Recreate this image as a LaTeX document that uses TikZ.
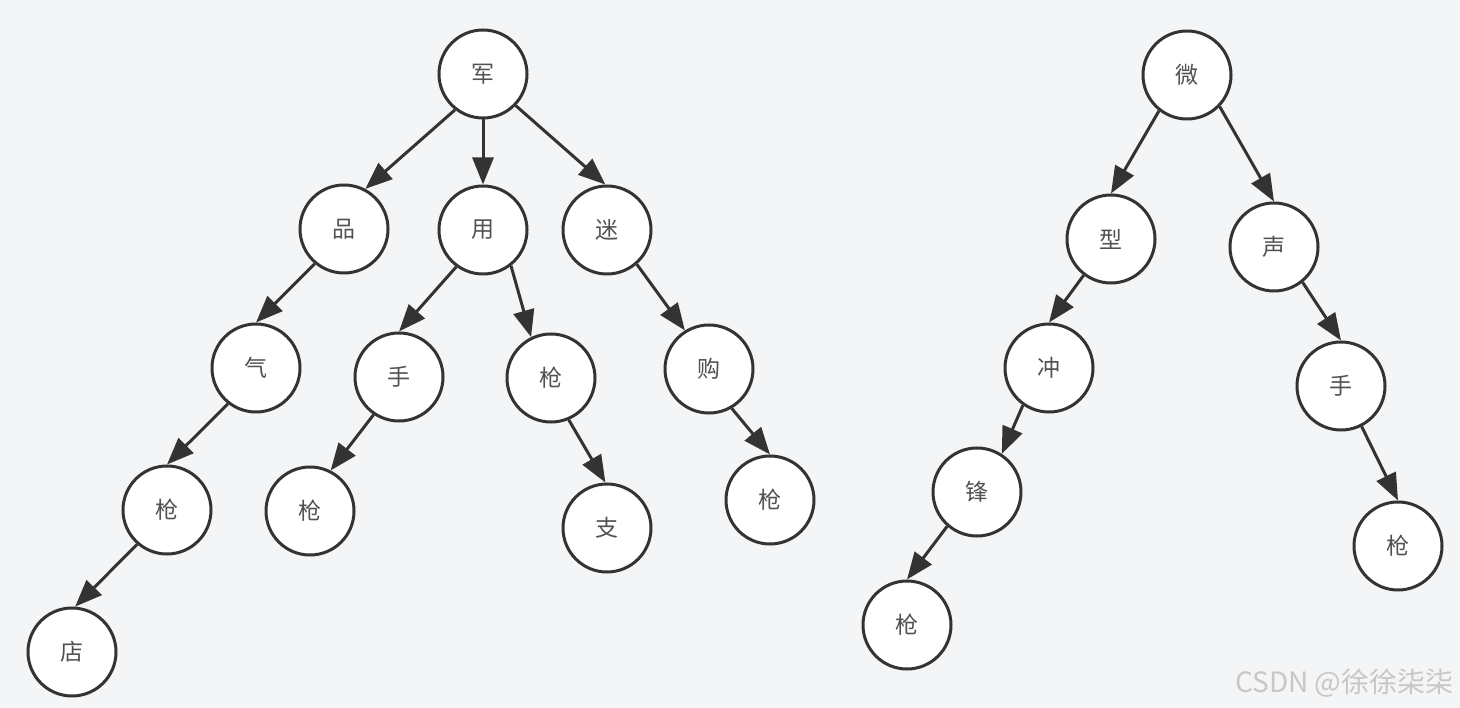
\documentclass[tikz,border=0pt]{standalone}
\usepackage{fontspec}
\newfontfamily\cjk{Noto Sans CJK SC}
\usetikzlibrary{arrows.meta}
\definecolor{bg}{HTML}{F4F5F7}
\definecolor{ink}{HTML}{333333}
\tikzset{
  tnode/.style={circle,draw=ink,fill=white,line width=3pt,minimum size=88pt,inner sep=0pt,font=\cjk\fontsize{23}{23}\selectfont,text=ink!85},
  tedge/.style={draw=ink,line width=3pt,-{Triangle[length=27pt,width=21pt]}},
}
\begin{document}
\begin{tikzpicture}[x=1pt,y=-1pt]
\fill[bg] (0,0) rectangle (1460,708);
\useasboundingbox (0,0) rectangle (1460,708);
% left tree
\node[tnode] (jun) at (483,74) {军};
\node[tnode] (pin) at (344,229) {品};
\node[tnode] (yong) at (483,230) {用};
\node[tnode] (mi) at (607,230) {迷};
\node[tnode] (qi) at (256,368) {气};
\node[tnode] (shou) at (399,377) {手};
\node[tnode] (qiangA) at (551,378) {枪};
\node[tnode] (gou) at (709,369) {购};
\node[tnode] (qiangB) at (167,510) {枪};
\node[tnode] (qiangC) at (310,511) {枪};
\node[tnode] (zhi) at (607,528) {支};
\node[tnode] (qiangD) at (770,500) {枪};
\node[tnode] (dian) at (72,652) {店};
% right tree
\node[tnode] (wei) at (1187,75) {微};
\node[tnode] (xing) at (1111,239) {型};
\node[tnode] (sheng) at (1274,247) {声};
\node[tnode] (chong) at (1049,368) {冲};
\node[tnode] (shouB) at (1341,386) {手};
\node[tnode] (feng) at (977,492) {锋};
\node[tnode] (qiangE) at (1398,546) {枪};
\node[tnode] (qiangF) at (907,625) {枪};
% edges
\draw[tedge] (jun.232) -- (pin.62);
\draw[tedge] (jun.270) -- (yong.90);
\draw[tedge] (jun.316) -- (mi.92);
\draw[tedge] (pin.230) -- (qi.90);
\draw[tedge] (qi.232) -- (qiangB.90);
\draw[tedge] (qiangB.229) -- (dian.86);
\draw[tedge] (yong.234) -- (shou.90);
\draw[tedge] (yong.308) -- (qiangA.116);
\draw[tedge] (shou.236) -- (qiangC.63);
\draw[tedge] (qiangA.293) -- (zhi.92);
\draw[tedge] (mi.311) -- (gou.122);
\draw[tedge] (gou.300) -- (qiangD.90);
\draw[tedge] (wei.232) -- (xing.90);
\draw[tedge] (wei.316) -- (sheng.90);
\draw[tedge] (xing.233) -- (chong.90);
\draw[tedge] (chong.235) -- (feng.57);
\draw[tedge] (feng.229) -- (qiangF.90);
\draw[tedge] (sheng.309) -- (shouB.90);
\draw[tedge] (shouB.297) -- (qiangE.90);
% watermark
\node[anchor=east,font=\cjk\fontsize{28}{28}\selectfont,text=black!22] (wm) at (1457,683) {CSDN @徐徐柒柒};
\end{tikzpicture}
\end{document}
